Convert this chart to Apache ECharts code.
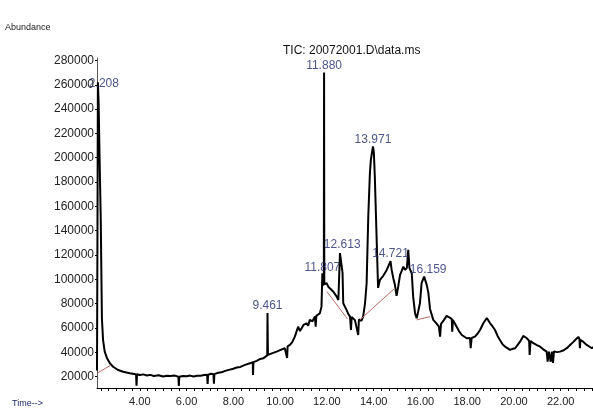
<!DOCTYPE html>
<html>
<head>
<meta charset="utf-8">
<script src="https://cdn.jsdelivr.net/npm/echarts@6/dist/echarts.min.js"></script>
<style>
  html, body { margin: 0; padding: 0; background: #fff; }
  #chart { width: 593px; height: 420px; }
</style>
</head>
<body>
<div id="chart"></div>
<script>
// TIC trace: [retention time (min), abundance]
const trace = [
  [2.17, 25000], [2.19, 140000], [2.208, 262000], [2.24, 245000], [2.28, 200000],
  [2.33, 150000], [2.36, 100000], [2.38, 68000], [2.43, 50000], [2.50, 40600],
  [2.60, 35100], [2.72, 31000], [2.86, 28200], [3.07, 25500], [3.29, 24100],
  [3.57, 22800], [3.84, 22000], [3.86, 12500], [3.88, 22000], [4.00, 21400],
  [4.15, 21900], [4.30, 21000], [4.45, 21500], [4.60, 20600], [4.80, 21200],
  [5.00, 20200], [5.15, 20800], [5.30, 20500], [5.50, 20900], [5.65, 20000],
  [5.67, 12400], [5.69, 20000], [5.85, 20600], [6.00, 20300], [6.15, 20900],
  [6.30, 20100], [6.45, 20700], [6.60, 20800], [6.75, 21300], [6.88, 21600],
  [6.90, 14000], [6.92, 21600], [7.05, 22400], [7.15, 22000], [7.17, 14200],
  [7.19, 22100], [7.35, 23200], [7.50, 23600], [7.65, 24800], [7.85, 25800],
  [8.00, 26500], [8.15, 27600], [8.30, 28000], [8.50, 29700], [8.71, 31000],
  [8.83, 32000], [8.84, 21500], [8.86, 32000], [9.00, 33000], [9.15, 34600],
  [9.28, 35100], [9.45, 37500], [9.461, 72400], [9.48, 38000], [9.65, 39200],
  [9.85, 40600], [10.00, 41800], [10.20, 43400], [10.28, 44500], [10.30, 35400],
  [10.32, 45000], [10.42, 46100], [10.52, 48500], [10.63, 52900], [10.77, 61100],
  [10.85, 57500], [10.92, 59800], [11.00, 62500], [11.13, 63900], [11.20, 62000],
  [11.27, 66700], [11.38, 65500], [11.49, 69400], [11.52, 61100], [11.55, 70000],
  [11.62, 68500], [11.70, 72200], [11.77, 77600], [11.807, 105000], [11.84, 95000],
  [11.87, 98000], [11.88, 270000], [11.89, 96000], [11.99, 96900], [12.06, 94000],
  [12.13, 92800], [12.27, 90000], [12.42, 85800], [12.49, 83100], [12.53, 105100],
  [12.56, 121600], [12.613, 122900], [12.67, 105300], [12.70, 80400], [12.77, 77600],
  [12.84, 74900], [12.92, 71500], [12.99, 69400], [13.03, 58400], [13.06, 69000],
  [13.13, 68100], [13.20, 66500], [13.27, 67200], [13.34, 54300], [13.37, 67000],
  [13.41, 66700], [13.48, 66000], [13.55, 69400], [13.63, 80000], [13.70, 96900],
  [13.77, 151700], [13.84, 187400], [13.88, 198300], [13.971, 209300], [14.01, 203900],
  [14.05, 184600], [14.10, 151700], [14.15, 118800], [14.19, 93000], [14.27, 99600],
  [14.41, 102900], [14.56, 107800], [14.721, 115000], [14.77, 107800], [14.84, 101000],
  [14.91, 95500], [14.98, 86400], [15.05, 94000], [15.13, 103700], [15.20, 107000],
  [15.27, 110500], [15.34, 107800], [15.42, 109500], [15.48, 124300], [15.53, 109500],
  [15.63, 105000], [15.69, 85800], [15.77, 72200], [15.84, 68100], [15.90, 73200],
  [15.98, 80400], [16.05, 96900], [16.159, 102300], [16.27, 95500], [16.34, 88900],
  [16.41, 75700], [16.55, 66700], [16.70, 63400], [16.79, 61100], [16.84, 52900],
  [16.88, 63400], [16.98, 65800], [17.12, 70000], [17.19, 71600], [17.34, 67500],
  [17.36, 57000], [17.39, 66700], [17.55, 61100], [17.65, 57500], [17.77, 54300],
  [17.98, 51600], [18.12, 51800], [18.15, 43400], [18.19, 51800], [18.33, 52900],
  [18.45, 55500], [18.55, 58400], [18.69, 63900], [18.84, 68300], [18.98, 63900],
  [19.08, 61500], [19.19, 58400], [19.30, 53500], [19.40, 50200], [19.52, 46500],
  [19.62, 44700], [19.83, 42000], [19.95, 43000], [20.05, 43400], [20.15, 46000],
  [20.26, 48800], [20.40, 53500], [20.55, 51600], [20.65, 49500], [20.67, 37900],
  [20.71, 49400], [20.83, 47500], [20.98, 46000], [21.12, 44700], [21.25, 42500],
  [21.40, 40600], [21.44, 32300], [21.50, 40600], [21.57, 32300], [21.63, 40600],
  [21.67, 31300], [21.71, 40800], [21.85, 40200], [21.97, 40600], [22.10, 41500],
  [22.26, 43400], [22.40, 46000], [22.54, 48600], [22.66, 51000], [22.76, 52700],
  [22.80, 51000], [22.82, 43400], [22.84, 50200], [22.97, 48600], [23.11, 46100],
  [23.22, 44800], [23.33, 43400], [23.38, 44400]
];

// integration baselines (thin red lines), '-' breaks the line between segments
const baselines = [
  [2.19, 23000], [2.77, 29600], '-',
  [12.00, 90000], [12.88, 67500], '-',
  [13.41, 66700], [14.27, 81700], [14.91, 92800], '-',
  [15.84, 66700], [16.41, 69400]
];

const peakTimes = [2.208, 9.461, 11.807, 11.880, 12.613, 13.971, 14.721, 16.159];
const peakHeights = [262000, 72400, 105000, 270000, 122900, 209300, 115000, 102300];
const peakLabelOffsets = [[6, 8], [0, 0], [0, 1], [0, 0], [1, 0], [0, 0], [0, 0], [4, 0]];

const xTicks = [4, 6, 8, 10, 12, 14, 16, 18, 20, 22];
const yTicks = [20000, 40000, 60000, 80000, 100000, 120000, 140000,
  160000, 180000, 200000, 220000, 240000, 260000, 280000];

const minorX = [];
for (let i = 7; i <= 70; i++) minorX.push(+(i / 3).toFixed(4));

const chart = echarts.init(document.getElementById('chart'));
chart.setOption({
  animation: false,
  backgroundColor: '#fff',
  textStyle: { fontFamily: 'Liberation Sans, Arial, sans-serif' },
  grid: { left: 97, right: 0, top: 58, bottom: 32 },
  xAxis: {
    type: 'value', min: 2.17, max: 23.38,
    axisLine: { lineStyle: { color: '#000', width: 1 } },
    axisTick: { customValues: minorX, length: 3, lineStyle: { color: '#000' } },
    axisLabel: {
      customValues: xTicks, formatter: v => v.toFixed(2),
      fontSize: 11, color: '#222', margin: 8
    },
    splitLine: { show: false }
  },
  yAxis: {
    type: 'value', min: 10700, max: 282000,
    axisLine: { show: true, lineStyle: { color: '#555', width: 1 } },
    axisTick: { show: true, customValues: yTicks, length: 2, lineStyle: { color: '#000' } },
    axisLabel: {
      customValues: yTicks, formatter: v => String(v),
      fontSize: 12, color: '#222', margin: 3
    },
    splitLine: { show: false }
  },
  graphic: [
    { type: 'text', left: 5, top: 23, style: { text: 'Abundance', fontSize: 9, fill: '#222', fontFamily: 'Liberation Sans, Arial' } },
    { type: 'text', left: 12, top: 399, style: { text: 'Time-->', fontSize: 9, fill: '#1f2a6b', fontFamily: 'Liberation Sans, Arial' } },
    { type: 'text', left: 283, top: 45, style: { text: 'TIC: 20072001.D\\data.ms', fontSize: 12, fill: '#111', fontFamily: 'Liberation Sans, Arial' } }
  ],
  series: [
    {
      type: 'line', data: trace, showSymbol: false, symbol: 'none',
      lineStyle: { color: '#000', width: 2 }, z: 3
    },
    {
      type: 'line', data: baselines, showSymbol: false, symbol: 'none',
      lineStyle: { color: '#b86a6a', width: 1 }, z: 4
    },
    {
      type: 'scatter', symbolSize: 0, z: 5,
      data: peakTimes.map((t, i) => ({
        value: [t, peakHeights[i]],
        label: { offset: peakLabelOffsets[i] }
      })),
      label: {
        show: true, position: 'top', distance: 1,
        formatter: p => p.value[0].toFixed(3),
        fontSize: 12, color: '#1f2a6b',
        fontFamily: 'Liberation Sans, Arial'
      }
    }
  ]
});
</script>
</body>
</html>
